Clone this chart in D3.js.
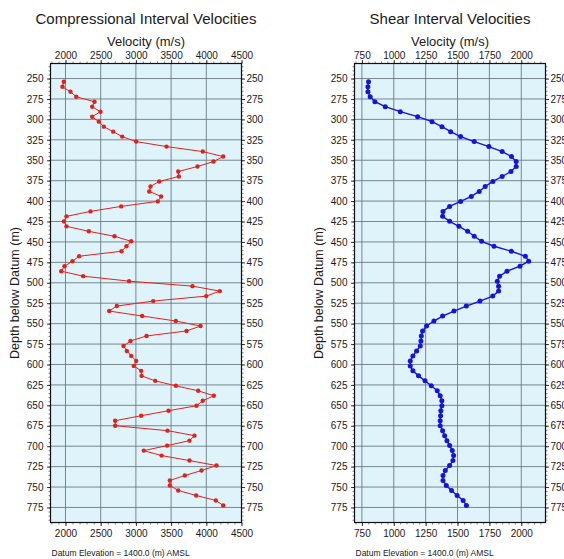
<!DOCTYPE html>
<html>
<head>
<meta charset="utf-8">
<script src="https://cdn.jsdelivr.net/npm/d3@7"></script>
<style>
  html, body { margin: 0; padding: 0; background: #fff; }
  svg { display: block; font-family: "Liberation Sans", Arial, Helvetica, sans-serif; }
</style>
</head>
<body>
<svg id="chart" width="564" height="559"></svg>
<script>
// Sample depths below datum (m), one sample every 20 ft
const depths = [
  254.0, 260.1, 266.2, 272.3, 278.4, 284.5, 290.6, 296.7, 302.8, 308.9,
  315.0, 321.1, 327.2, 333.3, 339.4, 345.5, 351.6, 357.7, 363.8, 369.9,
  376.0, 382.1, 388.2, 394.3, 400.4, 406.5, 412.6, 418.7, 424.8, 430.9,
  437.0, 443.1, 449.2, 455.3, 461.4, 467.5, 473.6, 479.7, 485.8, 491.9,
  498.0, 504.1, 510.2, 516.3, 522.4, 528.5, 534.6, 540.7, 546.8, 552.9,
  559.0, 565.1, 571.2, 577.3, 583.4, 589.5, 595.6, 601.7, 607.8, 613.9,
  620.0, 626.1, 632.2, 638.3, 644.4, 650.5, 656.6, 662.7, 668.8, 674.9,
  681.0, 687.1, 693.2, 699.3, 705.4, 711.5, 717.6, 723.7, 729.8, 735.9,
  742.0, 748.1, 754.2, 760.3, 766.4, 772.5
];

// Compressional interval velocity (m/s)
const vp = [
  1976, 1957, 2071, 2152, 2412, 2379, 2497, 2379, 2473, 2544,
  2677, 2805, 3004, 3435, 3950, 4240, 4102, 3875, 3601, 3610,
  3331, 3207, 3189, 3359, 3311, 2791, 2355, 2014, 1976, 2014,
  2331, 2696, 2933, 2866, 2795, 2194, 2099, 1986, 1939, 2251,
  2904, 3804, 4192, 3999, 3246, 2729, 2621, 3089, 3567, 3918,
  3719, 3151, 2923, 2824, 2871, 2933, 3004, 2970, 3075, 3080,
  3274, 3567, 3885, 4107, 3950, 3861, 3463, 3075, 2705, 2705,
  3449, 3832, 3761, 3444, 3112, 3364, 3761, 4145, 3932, 3695,
  3482, 3482, 3601, 3856, 4135, 4240
];

// Shear interval velocity (m/s)
const vs = [
  802, 797, 797, 815, 852, 933, 1051, 1187, 1300, 1378,
  1446, 1524, 1631, 1746, 1850, 1923, 1960, 1960, 1919, 1850,
  1777, 1717, 1670, 1608, 1524, 1438, 1386, 1383, 1438, 1511,
  1579, 1631, 1689, 1786, 1922, 2032, 2058, 1990, 1888, 1830,
  1812, 1822, 1822, 1776, 1676, 1569, 1472, 1383, 1315, 1257,
  1226, 1216, 1213, 1208, 1179, 1150, 1129, 1129, 1150, 1194,
  1245, 1294, 1341, 1364, 1377, 1377, 1369, 1367, 1364, 1364,
  1383, 1399, 1417, 1438, 1459, 1469, 1464, 1438, 1404, 1386,
  1386, 1412, 1453, 1497, 1544, 1570
];

// Axis ticks
const depthTicks = [250, 275, 300, 325, 350, 375, 400, 425, 450, 475, 500,
                    525, 550, 575, 600, 625, 650, 675, 700, 725, 750, 775];
const vpTicks = [2000, 2500, 3000, 3500, 4000, 4500];
const vsTicks = [750, 1000, 1250, 1500, 1750, 2000];

const titles = ["Compressional Interval Velocities", "Shear Interval Velocities"];
const xLabel = "Velocity (m/s)";
const yLabel = "Depth below Datum (m)";
const footnote = "Datum Elevation = 1400.0 (m) AMSL";

const svg = d3.select("#chart");

const plotTop = 63.5, plotBottom = 522.5;
const y = d3.scaleLinear().domain([231.6, 793.4]).range([plotTop, plotBottom]);

const panels = [
  { title: titles[0], values: vp, ticks: vpTicks, domain: [1787, 4500],
    left: 50.5, right: 241.5, minorStep: 100, color: "#e3211c", lw: 1, r: 2.2 },
  { title: titles[1], values: vs, ticks: vsTicks, domain: [692, 2190],
    left: 354.5, right: 545.5, minorStep: 50, color: "#1414dc", lw: 1.4, r: 2.5 }
];

panels.forEach(p => {
  const x = d3.scaleLinear().domain(p.domain).range([p.left, p.right]);
  const g = svg.append("g");
  const cx = (p.left + p.right) / 2;

  // plot area background
  g.append("rect")
    .attr("x", p.left).attr("y", plotTop)
    .attr("width", p.right - p.left).attr("height", plotBottom - plotTop)
    .attr("fill", "#dff3fa");

  // grid
  const grid = g.append("g").attr("stroke", "#66757a").attr("stroke-width", 0.85);
  p.ticks.forEach(t => {
    if (t > p.domain[0] && t < p.domain[1]) {
      grid.append("line").attr("x1", x(t)).attr("x2", x(t))
        .attr("y1", plotTop).attr("y2", plotBottom);
    }
  });
  depthTicks.forEach(t => {
    grid.append("line").attr("x1", p.left).attr("x2", p.right)
      .attr("y1", y(t)).attr("y2", y(t));
  });

  // minor ticks
  const xMinor = d3.range(Math.ceil(p.domain[0] / p.minorStep) * p.minorStep, p.domain[1] + 1, p.minorStep);
  const yMinor = d3.range(235, 795, 5);

  const axTop = d3.axisTop(x).tickValues(xMinor).tickSize(2).tickFormat("");
  const axBot = d3.axisBottom(x).tickValues(xMinor).tickSize(2).tickFormat("");
  const axL = d3.axisLeft(y).tickValues(yMinor).tickSize(2).tickFormat("");
  const axR = d3.axisRight(y).tickValues(yMinor).tickSize(2).tickFormat("");
  [[axTop, `translate(0,${plotTop})`], [axBot, `translate(0,${plotBottom})`],
   [axL, `translate(${p.left},0)`], [axR, `translate(${p.right},0)`]].forEach(([ax, tr]) => {
    const a = g.append("g").attr("transform", tr).call(ax);
    a.select(".domain").remove();
    a.selectAll("line").attr("stroke", "#333").attr("stroke-width", 0.6);
  });

  // major ticks with labels
  const fmt = d3.format("d");
  const majTop = d3.axisTop(x).tickValues(p.ticks).tickSize(3.5).tickPadding(1).tickFormat(fmt);
  const majBot = d3.axisBottom(x).tickValues(p.ticks).tickSize(3.5).tickPadding(3.5).tickFormat(fmt);
  const majL = d3.axisLeft(y).tickValues(depthTicks).tickSize(3.5).tickPadding(3.5).tickFormat(fmt);
  const majR = d3.axisRight(y).tickValues(depthTicks).tickSize(3.5).tickPadding(1.5).tickFormat(fmt);
  [[majTop, `translate(0,${plotTop})`], [majBot, `translate(0,${plotBottom})`],
   [majL, `translate(${p.left},0)`], [majR, `translate(${p.right},0)`]].forEach(([ax, tr]) => {
    const a = g.append("g").attr("transform", tr).call(ax);
    a.select(".domain").remove();
    a.selectAll("line").attr("stroke", "#222").attr("stroke-width", 0.9);
    a.selectAll("text").attr("font-size", 10).attr("fill", "#1a1a1a")
      .attr("font-family", "'Liberation Sans', Arial, sans-serif");
  });

  // frame
  g.append("rect")
    .attr("x", p.left).attr("y", plotTop)
    .attr("width", p.right - p.left).attr("height", plotBottom - plotTop)
    .attr("fill", "none").attr("stroke", "#111").attr("stroke-width", 1.2);

  // data line and markers
  const pts = depths.map((d, i) => [p.values[i], d]);
  g.append("path")
    .datum(pts)
    .attr("fill", "none")
    .attr("stroke", p.color)
    .attr("stroke-width", p.lw)
    .attr("d", d3.line().x(d => x(d[0])).y(d => y(d[1])));
  g.selectAll("circle.pt").data(pts).join("circle")
    .attr("class", "pt")
    .attr("cx", d => x(d[0])).attr("cy", d => y(d[1]))
    .attr("r", p.r).attr("fill", p.color);

  // titles and labels
  g.append("text").attr("x", cx).attr("y", 24)
    .attr("text-anchor", "middle").attr("font-size", 15).attr("fill", "#1a1a1a")
    .text(p.title);
  g.append("text").attr("x", cx).attr("y", 46)
    .attr("text-anchor", "middle").attr("font-size", 13).attr("fill", "#1a1a1a")
    .text(xLabel);
  g.append("text")
    .attr("transform", `translate(${p.left - 32},${(plotTop + plotBottom) / 2}) rotate(-90)`)
    .attr("text-anchor", "middle").attr("font-size", 12.5).attr("fill", "#1a1a1a")
    .text(yLabel);
  g.append("text").attr("x", p.left + 1).attr("y", 556)
    .attr("font-size", 8.5).attr("fill", "#1a1a1a")
    .text(footnote);
});
</script>
</body>
</html>
